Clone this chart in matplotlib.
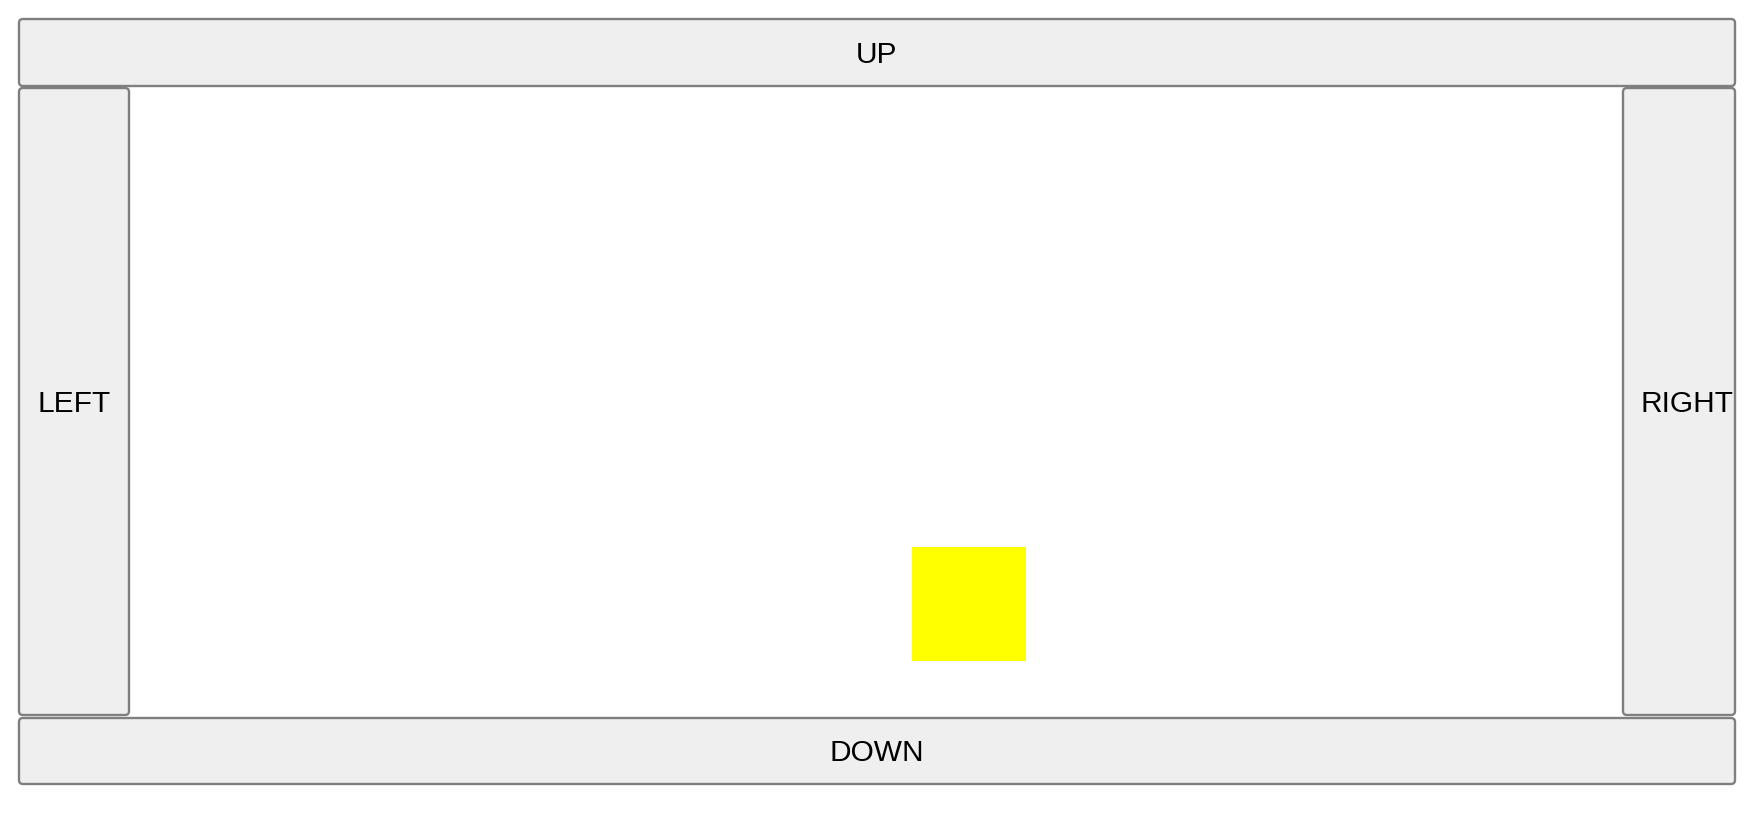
import matplotlib
matplotlib.use("Agg")
import matplotlib.pyplot as plt
from matplotlib.patches import FancyBboxPatch, Rectangle

# button labels
labels = ["UP", "LEFT", "RIGHT", "DOWN"]
# the yellow square (pixel coords, top-left origin)
square_x = [912]
square_y = [547]
square_size = [114]

W, H = 1755, 813
fig = plt.figure(figsize=(W / 100, H / 100), dpi=100)
ax = fig.add_axes([0, 0, 1, 1])
ax.set_xlim(0, W)
ax.set_ylim(H, 0)
ax.axis("off")

# x0, y0, x1, y1 of each button
boxes = {
    "UP": (19, 19, 1735, 86),
    "LEFT": (19, 88, 129, 715),
    "RIGHT": (1623, 88, 1735, 715),
    "DOWN": (19, 718, 1735, 784),
}

for name in labels:
    x0, y0, x1, y1 = boxes[name]
    ax.add_patch(FancyBboxPatch((x0 + 3, y0 + 3), x1 - x0 - 6, y1 - y0 - 6,
                                boxstyle="round,pad=3,rounding_size=4",
                                fc="#efefef", ec="#7f7f7f", lw=1.7))
    cy = (y0 + y1) / 2 - 0.7
    if name == "RIGHT":
        ax.text(1641, cy, name, ha="left", va="center_baseline",
                fontsize=21.5, family="Liberation Sans", color="#000000")
    else:
        ax.text((x0 + x1) / 2, cy, name, ha="center", va="center_baseline",
                fontsize=21.5, family="Liberation Sans", color="#000000")

for x, y, s in zip(square_x, square_y, square_size):
    ax.add_patch(Rectangle((x, y), s, s, fc="#ffff00", ec="none"))

fig.savefig("out.png", dpi=100)
